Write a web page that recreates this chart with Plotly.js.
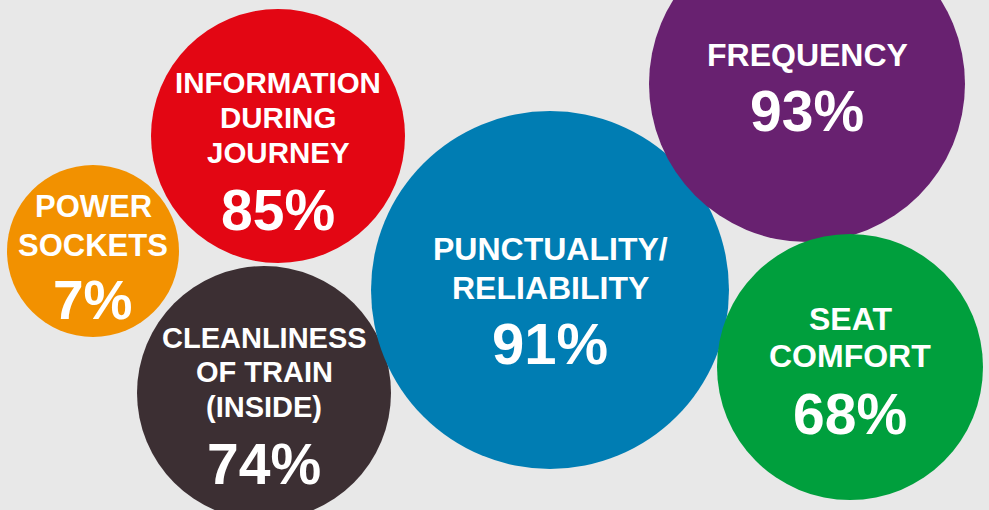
<!DOCTYPE html>
<html>
<head>
<meta charset="utf-8">
<script src="https://cdn.plot.ly/plotly-3.0.1.min.js"></script>
<style>
  html, body { margin: 0; padding: 0; background: #e8e8e8; }
  #chart { width: 989px; height: 510px; }
</style>
</head>
<body>
<div id="chart"></div>
<script>
// ---- data ----
const categories = [
  ["POWER", "SOCKETS"],
  ["INFORMATION", "DURING", "JOURNEY"],
  ["CLEANLINESS", "OF TRAIN", "(INSIDE)"],
  ["PUNCTUALITY/", "RELIABILITY"],
  ["FREQUENCY"],
  ["SEAT", "COMFORT"]
];
const values = [7, 85, 74, 91, 93, 68];

// ---- layout of bubbles (pixel-like axis units) ----
const bubbleX = [93, 278, 264, 550, 807, 850];
const bubbleY = [251, 136, 393, 290, 84, 367];
const bubbleR = [86, 127, 127, 179, 158, 133];

// ---- styles ----
const colors = ["#F29100", "#E30613", "#3C2F33", "#007DB3", "#682170", "#009F3D"];
const labelSize = [31, 29.5, 29, 32, 32, 32];
const valueSize = [55, 57, 57, 58, 57, 57];
const lineSpacing = [39, 35, 34.5, 39, 0, 37];
const valueGap = [63, 67, 67, 65, 65, 67];
const textShift = [7, 15, 13, 11, 3.5, 4.5];

const W = 989, H = 510;
const FONT = "Liberation Sans, Arial, sans-serif";

const trace = {
  type: "scatter",
  mode: "markers",
  x: bubbleX,
  y: bubbleY,
  marker: {
    size: bubbleR.map(r => 2 * r),
    sizemode: "diameter",
    color: colors,
    opacity: 1,
    line: { width: 0 }
  },
  hoverinfo: "skip",
  cliponaxis: true
};

const annotations = [];
categories.forEach((lines, i) => {
  const L = labelSize[i];
  const n = lines.length;
  const mid = bubbleY[i] + textShift[i];
  const b0 = (2 * mid + 0.716 * L - (n - 1) * lineSpacing[i] - valueGap[i]) / 2;
  lines.forEach((t, k) => {
    const base = b0 + k * lineSpacing[i];
    annotations.push({
      x: bubbleX[i], y: base - 0.36 * L, xref: "x", yref: "y",
      text: t, showarrow: false, xanchor: "center", yanchor: "middle",
      font: { family: FONT, size: L, color: "#ffffff", weight: 700 }
    });
  });
  const vb = b0 + (n - 1) * lineSpacing[i] + valueGap[i];
  const V = valueSize[i];
  annotations.push({
    x: bubbleX[i], y: vb - 0.36 * V, xref: "x", yref: "y",
    text: values[i] + "%", showarrow: false, xanchor: "center", yanchor: "middle",
    font: { family: FONT, size: V, color: "#ffffff", weight: 700 }
  });
});

const layout = {
  width: W, height: H,
  margin: { l: 0, r: 0, t: 0, b: 0, pad: 0 },
  paper_bgcolor: "#e8e8e8",
  plot_bgcolor: "#e8e8e8",
  showlegend: false,
  xaxis: { range: [0, W], visible: false, fixedrange: true },
  yaxis: { range: [H, 0], visible: false, fixedrange: true },
  annotations: annotations
};

Plotly.newPlot("chart", [trace], layout, { staticPlot: true, displayModeBar: false });
</script>
</body>
</html>
